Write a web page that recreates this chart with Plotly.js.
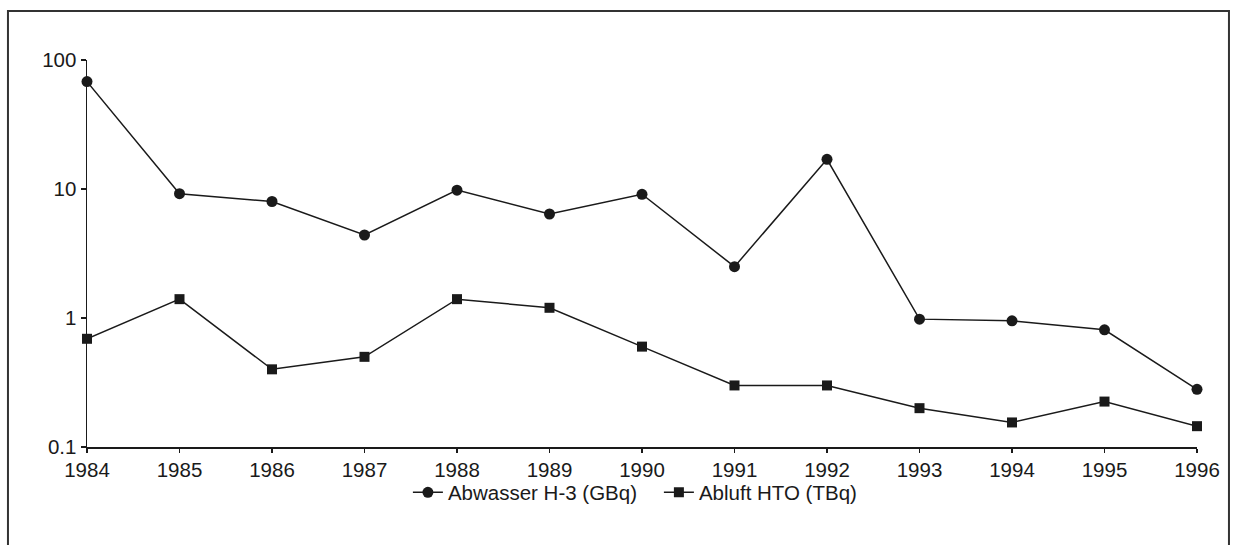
<!DOCTYPE html>
<html>
<head>
<meta charset="utf-8">
<script src="https://cdn.plot.ly/plotly-3.0.1.min.js"></script>
<style>html,body{margin:0;padding:0;background:#fff;}#chart{width:1234px;height:545px;}</style>
</head>
<body>
<div id="chart"></div>
<script>
const years = [1984,1985,1986,1987,1988,1989,1990,1991,1992,1993,1994,1995,1996];
const abwasser = [68,9.2,8,4.4,9.8,6.4,9.1,2.5,17,0.98,0.95,0.81,0.28];
const abluft = [0.69,1.4,0.4,0.5,1.4,1.2,0.6,0.3,0.3,0.2,0.155,0.225,0.145];
const yTickVals = [0.1,1,10,100];
const yTickText = ['0.1','1','10','100'];
const seriesNames = ['Abwasser H-3 (GBq)','Abluft HTO (TBq)'];

const ink = '#1a1a1a';
const traces = [
  {x: years, y: abwasser, name: seriesNames[0], mode: 'lines+markers', cliponaxis: false,
   line: {color: ink, width: 1.5}, marker: {symbol: 'circle', size: 11, color: ink}},
  {x: years, y: abluft, name: seriesNames[1], mode: 'lines+markers', cliponaxis: false,
   line: {color: ink, width: 1.5}, marker: {symbol: 'square', size: 10, color: ink}}
];

const axisCommon = {showgrid: false, zeroline: false, linecolor: ink, linewidth: 1.5, tickcolor: ink, tickwidth: 1.5};

const layout = {
  width: 1234, height: 545,
  margin: {l: 87, r: 37, t: 60, b: 98},
  paper_bgcolor: '#fff', plot_bgcolor: '#fff',
  font: {family: 'Liberation Sans, Arial, sans-serif', size: 20.5, color: ink},
  showlegend: true,
  legend: {orientation: 'h', x: 0.2891, xanchor: 'left', y: -0.066, yanchor: 'top',
           bgcolor: 'rgba(0,0,0,0)', font: {size: 20.5, color: ink}, itemwidth: 30, entrywidth: 206},
  xaxis: Object.assign({range: [1984, 1996], tickvals: years, ticktext: years.map(String),
          showline: true, ticks: 'outside', ticklen: 4, ticklabelstandoff: 0}, axisCommon),
  yaxis: Object.assign({type: 'log', range: [-1, 2], tickvals: yTickVals, ticktext: yTickText,
          showline: true, ticks: 'outside', ticklen: 5}, axisCommon),
  xaxis2: Object.assign({overlaying: 'x', matches: 'x', range: [1984, 1996], tickvals: years,
          showticklabels: false, showline: false, ticks: 'inside', ticklen: 4, anchor: 'y2', side: 'bottom'}, axisCommon),
  yaxis2: Object.assign({overlaying: 'y', type: 'log', range: [-1, 2], tickvals: yTickVals,
          showticklabels: false, showline: false, ticks: 'inside', ticklen: 5, anchor: 'x2', side: 'left'}, axisCommon),
  shapes: [
    {type: 'rect', xref: 'paper', yref: 'paper', x0: -0.0712, x1: 1.0288, y0: -0.4, y1: 1.1266,
     line: {color: '#333', width: 2}, fillcolor: 'rgba(0,0,0,0)', layer: 'below'}
  ]
};

Plotly.newPlot('chart', traces, layout, {displayModeBar: false, staticPlot: true});
</script>
</body>
</html>
